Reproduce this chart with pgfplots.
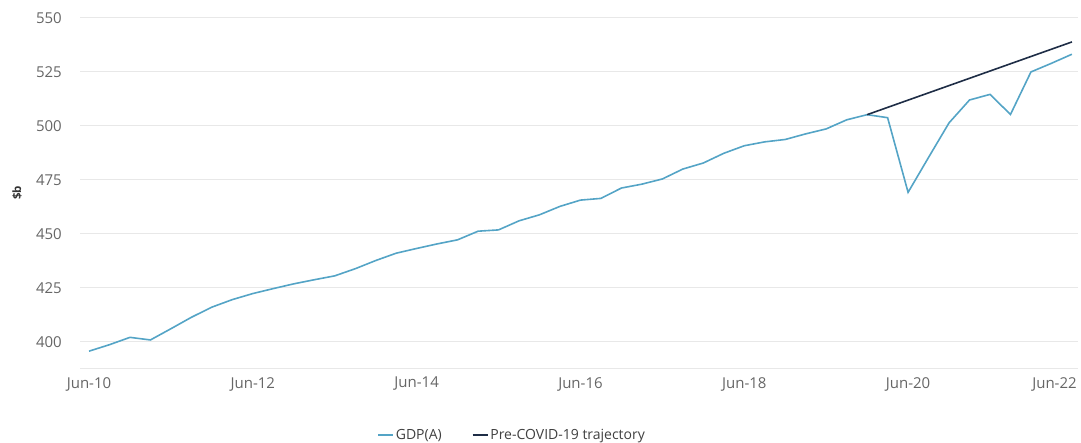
\documentclass[border=0pt]{standalone}
\usepackage{pgfplots}
\pgfplotsset{compat=1.18}
\usepackage{fontspec}
\setmainfont{Open Sans}
\definecolor{gdp}{RGB}{84,164,198}
\definecolor{traj}{RGB}{30,45,70}
\definecolor{grid}{RGB}{232,232,232}
\definecolor{tick}{RGB}{102,102,102}
\begin{document}
\begin{tikzpicture}
\path[use as bounding box] (0,0) rectangle (1081bp,443bp);
\begin{axis}[
  at={(80bp,75bp)}, anchor=south west,
  scale only axis, width=998bp, height=350bp,
  xmin=-0.44, xmax=48.3, ymin=387.8, ymax=550,
  ytick={400,425,450,475,500,525,550},
  /pgf/number format/assume math mode=true,
  xtick={0,8,16,24,32,40},
  xticklabels={Jun-10,Jun-12,Jun-14,Jun-16,Jun-18,Jun-20},
  extra x ticks={48},
  extra x tick labels={Jun-22},
  extra x tick style={grid=none, xticklabel style={anchor=north east, xshift=5bp}},
  axis x line*=bottom, axis y line*=left,
  x axis line style={draw=grid, line width=1bp},
  y axis line style={draw=none},
  major tick length=0pt,
  ymajorgrids, grid style={draw=grid, line width=1bp},
  tick label style={font=\fontsize{15bp}{18bp}\selectfont, text=tick, inner sep=0pt},
  yticklabel style={anchor=east, xshift=-18bp},
  xticklabel style={anchor=north, yshift=-9bp},
  ylabel={\$b},
  every axis y label/.style={at={(axis description cs:-0.0631,0.5)}, rotate=90, anchor=center,
    font=\bfseries\fontsize{11.5bp}{14bp}\selectfont, text=black!80},
  legend columns=2,
  legend style={at={(axis description cs:0.4329,-0.1914)}, anchor=center, draw=none, fill=none,
    font=\fontsize{14bp}{16bp}\selectfont, text=black!75,
    /tikz/every even column/.append style={column sep=28bp}},
  legend image code/.code={\draw[#1] (0bp,0bp) -- (15bp,0bp);},
]
\addplot[gdp, line width=1.6bp] coordinates {
(0,395.6) (1,398.6) (2,402.0) (3,400.8) (4,406.0) (5,411.3) (6,416.0) (7,419.5)
(8,422.3) (9,424.6) (10,426.8) (11,428.7) (12,430.5) (13,433.8) (14,437.6) (15,441.0)
(16,443.2) (17,445.3) (18,447.2) (19,451.2) (20,451.8) (21,456.0) (22,458.8) (23,462.7)
(24,465.6) (25,466.4) (26,471.2) (27,473.0) (28,475.4) (29,480.0) (30,482.8) (31,487.3)
(32,490.8) (33,492.6) (34,493.7) (35,496.3) (36,498.6) (37,502.8) (38,505.2) (39,503.8)
(40,469.2) (41,485.4) (42,501.4) (43,512.0) (44,514.6) (45,505.3) (46,525.0) (47,529.0)
(48,533.2)
};
\addlegendentry{GDP(A)}
\addplot[traj, line width=1.6bp] coordinates {(38,505.2) (48,538.9)};
\addlegendentry{Pre-COVID-19 trajectory}
\end{axis}
\end{tikzpicture}
\end{document}
